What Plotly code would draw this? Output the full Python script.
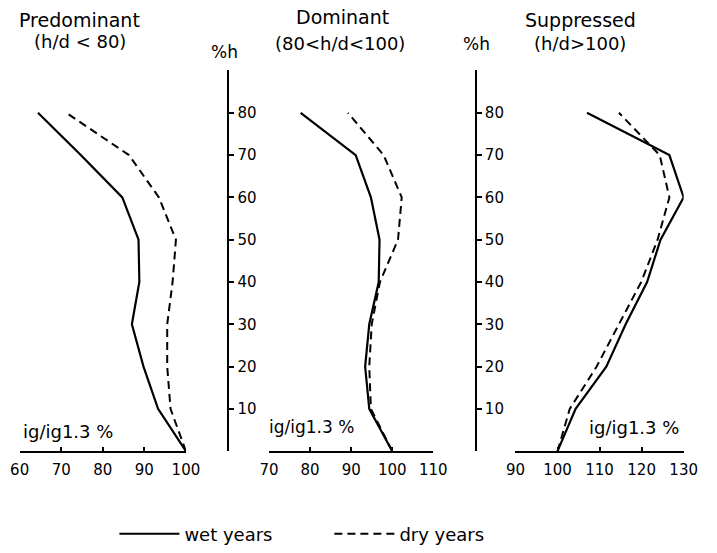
import plotly.graph_objects as go

W, H = 717, 553

heights = [0, 10, 20, 30, 40, 50, 60, 70, 80]
height_ticks = [10, 20, 30, 40, 50, 60, 70, 80]

pred_wet = [100, 93.3, 89.8, 87.0, 88.8, 88.6, 84.7, 74.7, 64.4]
pred_dry = [100, 96.3, 95.5, 95.5, 96.8, 97.6, 93.5, 86.3, 71.2]
dom_wet = [100, 94.4, 93.4, 94.4, 96.7, 96.9, 94.8, 91.1, 77.7]
dom_dry = [100, 94.8, 94.4, 95.0, 97.0, 101.4, 102.3, 97.9, 89.2]
sup_wet = [100, 104.3, 111.6, 116.2, 121.3, 124.5, 130.0, 126.6, 107.0]
sup_dry = [100, 102.9, 109.3, 114.6, 119.9, 123.8, 126.6, 124.3, 114.6]

x1_ticks = [60, 70, 80, 90, 100]
x2_ticks = [70, 80, 90, 100, 110]
x3_ticks = [90, 100, 110, 120, 130]

titles = ["Predominant", "Dominant", "Suppressed"]
subtitles = ["(h/d < 80)", "(80<h/d<100)", "(h/d>100)"]
series_names = ["wet years", "dry years"]
x_label = "ig/ig1.3 %"
y_label = "%h"

FONT = "DejaVu Sans"


def px(x):
    return x / W


def py(y):
    return 1 - y / H


fig = go.Figure()

solid = dict(color="black", width=2.2)
dashed = dict(color="black", width=2, dash="8px,5px")

panels = [
    (pred_wet, pred_dry, "x", "y"),
    (dom_wet, dom_dry, "x2", "y"),
    (sup_wet, sup_dry, "x3", "y2"),
]
for i, (wet, dry, xa, ya) in enumerate(panels):
    fig.add_trace(go.Scatter(x=wet, y=heights, mode="lines", line=solid,
                             xaxis=xa, yaxis=ya, name=series_names[0],
                             showlegend=(i == 0), legendrank=1))
    fig.add_trace(go.Scatter(x=dry, y=heights, mode="lines", line=dashed,
                             xaxis=xa, yaxis=ya, name=series_names[1],
                             showlegend=(i == 0), legendrank=2))

ydom = [py(452), py(70)]
yrange = [0, (452 - 70) / ((452 - 113) / 80)]

xcommon = dict(showline=True, linecolor="black", linewidth=2, ticks="inside",
               ticklen=4, tickwidth=2, tickcolor="black", showgrid=False,
               zeroline=False, ticklabelstandoff=4,
               tickfont=dict(family=FONT, size=15, color="black"))
ycommon = dict(showline=True, linecolor="black", linewidth=2, ticks="outside",
               ticklen=5, tickwidth=2, tickcolor="black", showgrid=False,
               zeroline=False, tickvals=height_ticks, range=yrange, domain=ydom,
               anchor="free", side="right",
               tickfont=dict(family=FONT, size=15, color="black"))

fig.update_layout(
    width=W, height=H,
    margin=dict(l=0, r=0, t=0, b=0),
    paper_bgcolor="white", plot_bgcolor="white",
    xaxis=dict(domain=[px(10), px(182)], range=[60, 100], tickvals=x1_ticks,
               anchor="y", **xcommon),
    xaxis2=dict(domain=[px(268), px(438)], range=[70, 110], tickvals=x2_ticks,
                anchor="y", **xcommon),
    xaxis3=dict(domain=[px(523), px(697)], range=[90, 130], tickvals=x3_ticks,
                anchor="y2", **xcommon),
    yaxis=dict(position=px(226), **ycommon),
    yaxis2=dict(position=px(482), **ycommon),
    legend=dict(orientation="h", x=px(108), xanchor="left", y=py(535),
                yanchor="middle", font=dict(family=FONT, size=18, color="black"),
                itemwidth=60, entrywidth=140, entrywidthmode="pixels",
                bgcolor="rgba(0,0,0,0)"),
)

ann = [
    (titles[0], 72, 20, 19), (subtitles[0], 72, 42, 18),
    (titles[1], 344, 17, 19), (subtitles[1], 341, 44, 18),
    (titles[2], 590, 20, 19), (subtitles[2], 590, 44, 18),
    (y_label, 222, 52, 17), (y_label, 483, 44, 17),
    (x_label, 60, 432, 18), (x_label, 312, 428, 17), (x_label, 646, 428, 18),
]
for text, xx, yy, fs in ann:
    fig.add_annotation(text=text, x=px(xx), y=py(yy), xref="paper", yref="paper",
                       showarrow=False, xanchor="center", yanchor="middle",
                       font=dict(family=FONT, size=fs, color="black"))

fig.write_html("out.html")
